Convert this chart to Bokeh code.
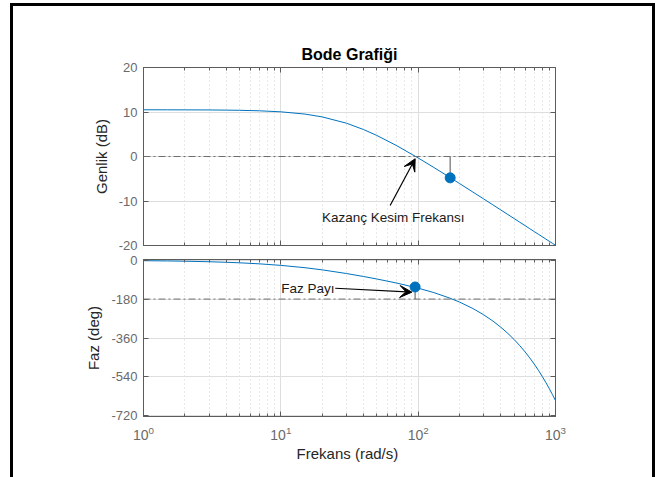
from bokeh.plotting import figure
from bokeh.models import (Range1d, LogAxis, LinearAxis, FixedTicker, Span, Arrow,
                          VeeHead, Label)
from bokeh.layouts import column
from bokeh.embed import file_html
from bokeh.resources import INLINE

# ---- data ----
freq = [1, 1.5, 2, 3, 4, 5, 7, 10, 15, 20, 30, 40, 50, 70, 100, 130, 170, 200, 250,
        300, 350, 400, 450, 500, 550, 600, 650, 700, 750, 800, 850, 900, 950, 1000]
mag_db = [10.50, 10.49, 10.48, 10.46, 10.42, 10.38, 10.27, 10.04, 9.53, 8.90, 7.49,
          6.06, 4.73, 2.41, -0.33, -2.46, -4.70, -6.07, -7.98, -9.54, -10.87, -12.02,
          -13.04, -13.95, -14.78, -15.53, -16.23, -16.87, -17.46, -18.02, -18.55,
          -19.05, -19.51, -19.96]
phase_deg = [-2.5, -3.7, -4.9, -7.4, -9.8, -12.3, -17.1, -24.1, -35.0, -44.9, -61.8,
             -75.6, -87.1, -106.1, -129.5, -150.0, -175.5, -193.8, -223.5, -252.7,
             -281.6, -310.3, -338.9, -367.3, -395.7, -424.0, -452.3, -480.6, -508.8,
             -537.1, -565.3, -593.5, -621.6, -649.8]

x_major = [1, 10, 100, 1000]
x_minor = [2, 3, 4, 5, 6, 7, 8, 9, 20, 30, 40, 50, 60, 70, 80, 90,
           200, 300, 400, 500, 600, 700, 800, 900]
mag_ticks = [-20, -10, 0, 10, 20]
mag_tick_labels = ["-20", "-10", "0", "10", "20"]
phase_ticks = [-720, -540, -360, -180, 0]
phase_tick_labels = ["-720", "-540", "-360", "-180", "0"]

# gain margin point (phase crossover) and phase margin point (gain crossover)
gm_freq = [171]
gm_mag = [-4.8]
pm_freq = [95]
pm_phase = [-124]
mag_ref = 0
phase_ref = -180

title_text = "Bode Grafiği"
mag_label = "Genlik (dB)"
phase_label = "Faz (deg)"
x_label = "Frekans  (rad/s)"
gain_note = "Kazanç Kesim Frekansı"
phase_note = "Faz Payı"

# ---- style ----
FONT = "Liberation Sans"
AX = "#5c5c5c"
TICKLAB = "#6a6a6a"
LAB = "#262626"
BLUE = "#0072BD"
GRID = "#dedede"
MINOR = "#d2d2d2"
REF = "#6e6e6e"

W = 639


def hide_labels(ax):
    ax.major_label_text_font_size = "1px"
    ax.major_label_text_alpha = 0
    ax.major_label_standoff = 0


def style(p, yt, ylabels, ylab):
    xb = p.below[0]
    yl = p.left[0]
    xt = FixedTicker(ticks=x_major, minor_ticks=x_minor)
    ytk = FixedTicker(ticks=yt, minor_ticks=[])
    xb.ticker = xt
    yl.ticker = ytk
    p.xgrid.ticker = xt
    p.ygrid.ticker = ytk
    p.xgrid.grid_line_color = GRID
    p.ygrid.grid_line_color = GRID
    p.xgrid.minor_grid_line_color = MINOR
    p.xgrid.minor_grid_line_dash = "1 3"
    p.outline_line_color = AX
    yl.major_label_overrides = dict(zip(yt, ylabels))
    yl.axis_label = ylab
    yl.axis_label_text_font = FONT
    yl.axis_label_text_font_style = "normal"
    yl.axis_label_text_font_size = "15px"
    yl.axis_label_text_color = LAB
    yl.axis_label_standoff = 6
    for ax in [xb, yl]:
        ax.axis_line_color = AX
        ax.major_tick_line_color = AX
        ax.minor_tick_line_color = AX
        ax.major_tick_in = 5
        ax.major_tick_out = 0
        ax.minor_tick_in = 3
        ax.minor_tick_out = 0
        ax.major_label_text_font = FONT
        ax.major_label_text_font_size = "13px"
        ax.major_label_text_color = TICKLAB
        ax.major_label_standoff = 6
    # mirrored axes (top / right), ticks only
    top = LogAxis(ticker=xt)
    right = LinearAxis(ticker=ytk)
    for ax in [top, right]:
        ax.axis_line_color = AX
        ax.major_tick_line_color = AX
        ax.minor_tick_line_color = AX
        ax.major_tick_in = 5
        ax.major_tick_out = 0
        ax.minor_tick_in = 3
        ax.minor_tick_out = 0
        hide_labels(ax)
    p.add_layout(top, "above")
    p.add_layout(right, "right")
    p.background_fill_color = "white"
    p.border_fill_color = "white"
    return xb, yl


# ---- magnitude ----
p1 = figure(width=W, height=246, x_axis_type="log", x_range=Range1d(1, 1000),
            y_range=Range1d(-20, 20), output_backend="svg", toolbar_location=None,
            min_border_left=130, min_border_right=97, min_border_top=61,
            min_border_bottom=7)
xb1, yl1 = style(p1, mag_ticks, mag_tick_labels, mag_label)
hide_labels(xb1)
p1.title.text = title_text
p1.title.text_font = FONT
p1.title.text_font_size = "16px"
p1.title.text_font_style = "bold"
p1.title.text_color = "black"
p1.title.align = "center"

p1.add_layout(Span(location=mag_ref, dimension="width", line_color=REF,
                   line_width=1, line_dash="7 3 2 3"))
p1.segment(x0=gm_freq, y0=gm_mag, x1=gm_freq, y1=[mag_ref] * len(gm_freq),
           line_color=REF, line_width=1.2)
p1.line(freq, mag_db, line_color=BLUE, line_width=1)
p1.scatter(gm_freq, gm_mag, size=10, color=BLUE)
p1.add_layout(Arrow(x_start=62.5, y_start=-11.0, x_end=95.1, y_end=-0.5,
                    line_color="black", line_width=1.2,
                    end=VeeHead(size=12, fill_color="black", line_color="black")))
p1.add_layout(Label(x=19.9, y=-13.6, text=gain_note, text_font=FONT,
                    text_font_size="13.5px", text_color="#1a1a1a",
                    text_baseline="middle", text_align="left"))

# ---- phase ----
p2 = figure(width=W, height=225, x_axis_type="log", x_range=p1.x_range,
            y_range=Range1d(-723, 3), output_backend="svg", toolbar_location=None,
            min_border_left=130, min_border_right=97, min_border_top=7,
            min_border_bottom=61)
xb2, yl2 = style(p2, phase_ticks, phase_tick_labels, phase_label)
xb2.major_label_text_font_size = "14px"
xb2.major_label_standoff = 9
xb2.axis_label = x_label
xb2.axis_label_text_font = FONT
xb2.axis_label_text_font_style = "normal"
xb2.axis_label_text_font_size = "15px"
xb2.axis_label_text_color = LAB
xb2.axis_label_standoff = 2

p2.add_layout(Span(location=phase_ref, dimension="width", line_color=REF,
                   line_width=1, line_dash="7 3 2 3"))
p2.segment(x0=pm_freq, y0=pm_phase, x1=pm_freq, y1=[phase_ref] * len(pm_freq),
           line_color=REF, line_width=1.2)
p2.line(freq, phase_deg, line_color=BLUE, line_width=1)
p2.scatter(pm_freq, pm_phase, size=10, color=BLUE)
p2.add_layout(Arrow(x_start=24.9, y_start=-130, x_end=90.0, y_end=-148,
                    line_color="black", line_width=1.2,
                    end=VeeHead(size=12, fill_color="black", line_color="black")))
p2.add_layout(Label(x=24.6, y=-132, text=phase_note, text_font=FONT,
                    text_font_size="13.5px", text_color="#1a1a1a",
                    text_baseline="middle", text_align="right"))

layout = column(p1, p2, margin=(3, 0, 0, 10),
                styles={"border-left": "3px solid black",
                        "border-right": "3px solid black",
                        "border-top": "3px solid black",
                        "background-color": "white"})

open("out.html", "w").write(file_html(layout, INLINE))
